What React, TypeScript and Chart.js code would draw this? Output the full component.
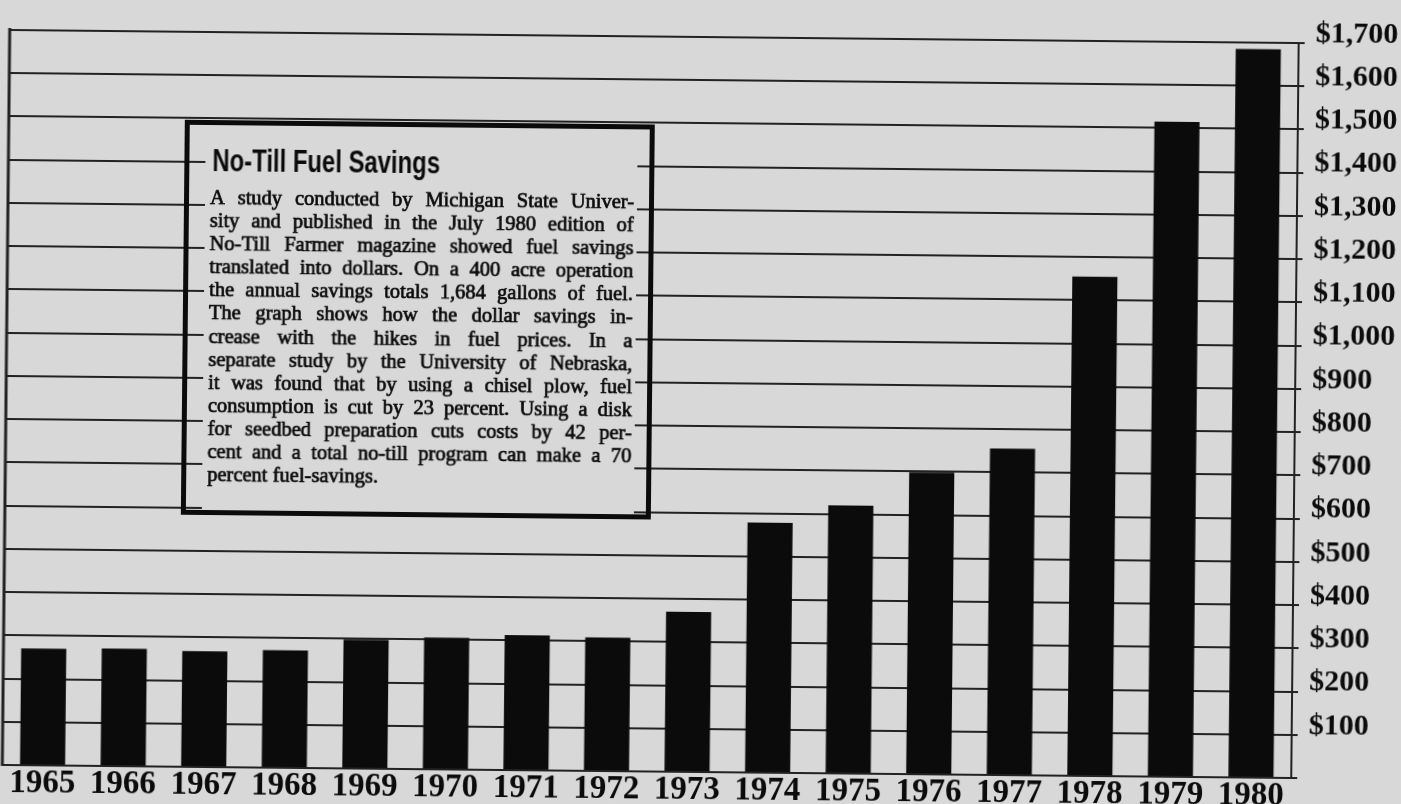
import React, { useEffect, useRef } from 'react';
import { Chart, registerables } from 'chart.js';

Chart.register(...registerables);

const years = ['1965', '1966', '1967', '1968', '1969', '1970', '1971', '1972', '1973', '1974', '1975', '1976', '1977', '1978', '1979', '1980'];
const savings = [270, 272, 268, 272, 298, 305, 312, 309, 370, 578, 620, 698, 755, 1155, 1515, 1685];
const yTickValues = [0, 100, 200, 300, 400, 500, 600, 700, 800, 900, 1000, 1100, 1200, 1300, 1400, 1500, 1600, 1700];

const boxTitle = 'No-Till Fuel Savings';
const boxLines = [
  'A study conducted by Michigan State Univer-',
  'sity and published in the July 1980 edition of',
  'No-Till Farmer magazine showed fuel savings',
  'translated into dollars. On a 400 acre operation',
  'the annual savings totals 1,684 gallons of fuel.',
  'The graph shows how the dollar savings in-',
  'crease with the hikes in fuel prices. In a',
  'separate study by the University of Nebraska,',
  'it was found that by using a chisel plow, fuel',
  'consumption is cut by 23 percent. Using a disk',
  'for seedbed preparation cuts costs by 42 per-',
  'cent and a total no-till program can make a 70',
  'percent fuel-savings.',
];

const PAPER = '#d8d8d8';
const INK = '#0b0b0b';
const LINE = '#222222';

const paperPlugin = {
  id: 'paper',
  beforeDraw(chart: any) {
    const { ctx, width, height } = chart;
    ctx.save();
    ctx.fillStyle = PAPER;
    ctx.fillRect(0, 0, width, height);
    ctx.restore();
  },
  afterDraw(chart: any) {
    const { ctx, chartArea } = chart;
    ctx.save();
    ctx.strokeStyle = LINE;
    ctx.lineWidth = 3;
    ctx.beginPath();
    ctx.moveTo(chartArea.left, chartArea.top - 2);
    ctx.lineTo(chartArea.left, chartArea.bottom + 1);
    ctx.stroke();
    ctx.restore();
  },
};

export default function App() {
  const canvasRef = useRef<HTMLCanvasElement | null>(null);

  useEffect(() => {
    if (!canvasRef.current) return;
    const chart = new Chart(canvasRef.current, {
      type: 'bar',
      data: {
        labels: years,
        datasets: [
          {
            data: savings,
            backgroundColor: INK,
            borderWidth: 0,
            barPercentage: 0.56,
            categoryPercentage: 1,
          },
        ],
      },
      options: {
        responsive: false,
        animation: false,
        layout: { padding: { left: 6, top: 37, right: 0, bottom: 0 } },
        plugins: { legend: { display: false }, tooltip: { enabled: false } },
        scales: {
          x: {
            grid: { display: false, drawTicks: false },
            border: { display: true, color: LINE, width: 2 },
            ticks: {
              color: INK,
              font: { family: '"Liberation Serif", serif', size: 33, weight: 'bold', lineHeight: 1 },
              padding: 2,
              maxRotation: 0,
              autoSkip: false,
            },
            afterFit: (s: any) => {
              s.height = 32;
            },
          },
          y: {
            position: 'right',
            min: 0,
            max: 1700,
            afterBuildTicks: (s: any) => {
              s.ticks = yTickValues.map((v) => ({ value: v }));
            },
            grid: { color: LINE, lineWidth: 2, drawTicks: true, tickLength: 6, tickColor: LINE },
            border: { display: true, color: LINE, width: 2 },
            ticks: {
              color: INK,
              font: { family: '"Liberation Serif", serif', size: 30, weight: 'bold' },
              padding: 11,
              labelOffset: -9,
              callback: (v: any) => (Number(v) === 0 ? '' : '$' + Number(v).toLocaleString('en-US')),
            },
            afterFit: (s: any) => {
              s.width = 106;
            },
          },
        },
      } as any,
      plugins: [paperPlugin],
    });
    return () => chart.destroy();
  }, []);

  return (
    <div
      style={{
        position: 'absolute',
        left: 0,
        top: 0,
        width: 1401,
        height: 804,
        overflow: 'hidden',
        background: PAPER,
      }}
    >
      <div
        style={{
          position: 'absolute',
          left: 0,
          top: 0,
          width: 1401,
          height: 804,
          transform: 'rotate(0.58deg)',
          transformOrigin: '700px 402px',
        }}
      >
        <canvas ref={canvasRef} width={1401} height={804} style={{ display: 'block' }} />
        <div
          style={{
            position: 'absolute',
            left: 182,
            top: 125,
            width: 470,
            height: 395,
            border: `5px solid ${INK}`,
            boxSizing: 'border-box',
          }}
        >
          <div
            style={{
              position: 'absolute',
              left: 16,
              right: 12,
              top: 0,
              bottom: 0,
              background: PAPER,
            }}
          >
            <div
              style={{
                position: 'absolute',
                left: 7,
                top: 20,
                fontFamily: '"Liberation Sans", Arial, sans-serif',
                fontWeight: 'bold',
                fontSize: 31,
                lineHeight: '31px',
                color: INK,
                whiteSpace: 'nowrap',
                transform: 'scaleX(0.77)',
                transformOrigin: 'left center',
              }}
            >
              {boxTitle}
            </div>
            <div
              style={{
                position: 'absolute',
                left: 5,
                top: 61,
                width: 424,
                fontFamily: '"Liberation Serif", serif',
                fontSize: 20.5,
                lineHeight: '23.1px',
                color: INK,
                WebkitTextStroke: '0.7px #0b0b0b',
              }}
            >
              {boxLines.map((line, i) => {
                const last = i === boxLines.length - 1;
                const words = line.split(' ');
                return (
                  <div
                    key={i}
                    style={{
                      display: 'flex',
                      justifyContent: last ? 'flex-start' : 'space-between',
                      gap: last ? '0.25em' : 0,
                      whiteSpace: 'nowrap',
                      height: '23.1px',
                    }}
                  >
                    {words.map((w, j) => (
                      <span key={j}>{w}</span>
                    ))}
                  </div>
                );
              })}
            </div>
          </div>
        </div>
      </div>
    </div>
  );
}
